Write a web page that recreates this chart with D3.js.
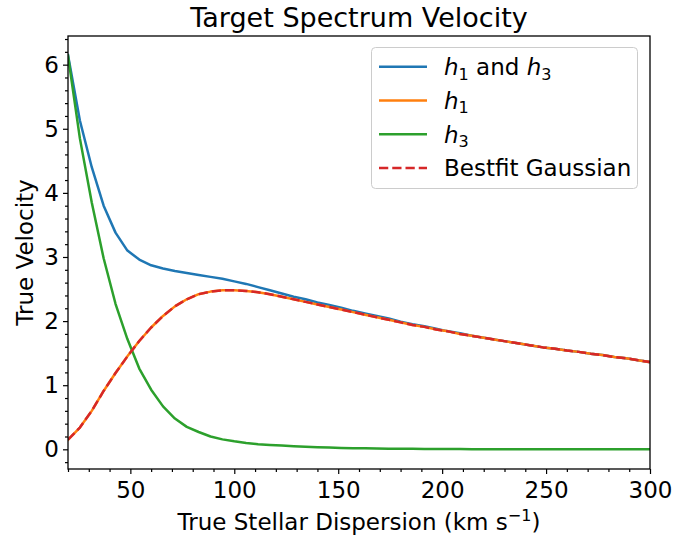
<!DOCTYPE html>
<html>
<head>
<meta charset="utf-8">
<script src="https://cdn.jsdelivr.net/npm/d3@7"></script>
<style>
  html, body { margin: 0; padding: 0; background: #fff; }
  svg { display: block; font-family: "DejaVu Sans", sans-serif; }
</style>
</head>
<body>
<svg id="chart" width="673" height="538"></svg>
<script>
// Dispersion grid (km/s): 50 samples from 20 to 300
const dispersion = d3.range(50).map(i => 20 + i * 280 / 49);

// Recovered velocity for each fit
const velBoth = [6.15, 5.13, 4.40, 3.80, 3.38, 3.10, 2.96, 2.87, 2.82, 2.78,
                 2.75, 2.72, 2.69, 2.66, 2.62, 2.58, 2.53, 2.48, 2.43, 2.38,
                 2.34, 2.29, 2.25, 2.21, 2.16, 2.12, 2.08, 2.04, 1.99, 1.95,
                 1.92, 1.88, 1.84, 1.81, 1.77, 1.74, 1.71, 1.68, 1.65, 1.62,
                 1.59, 1.57, 1.54, 1.52, 1.49, 1.47, 1.44, 1.42, 1.39, 1.36];
const velH1 = [0.15, 0.34, 0.60, 0.91, 1.19, 1.45, 1.69, 1.90, 2.08, 2.23,
               2.34, 2.42, 2.46, 2.48, 2.48, 2.47, 2.45, 2.42, 2.38, 2.34,
               2.30, 2.26, 2.22, 2.18, 2.14, 2.10, 2.06, 2.02, 1.98, 1.94,
               1.91, 1.87, 1.84, 1.80, 1.77, 1.74, 1.71, 1.68, 1.65, 1.62,
               1.59, 1.57, 1.54, 1.52, 1.49, 1.47, 1.44, 1.42, 1.39, 1.36];
const velH3 = [6.14, 4.85, 3.85, 2.98, 2.27, 1.72, 1.26, 0.93, 0.67, 0.48,
               0.35, 0.27, 0.20, 0.155, 0.125, 0.10, 0.08, 0.068, 0.058, 0.048,
               0.040, 0.033, 0.027, 0.022, 0.018, 0.015, 0.012, 0.010, 0.008, 0.007,
               0.006, 0.005, 0.004, 0.0035, 0.003, 0.0025, 0.002, 0.0017, 0.0014, 0.0012,
               0.001, 0.0008, 0.0007, 0.0006, 0.0005, 0.0004, 0.0003, 0.0003, 0.0002, 0.0002];
const velGauss = velH1.slice();

const xTicks = [50, 100, 150, 200, 250, 300];
const yTicks = [0, 1, 2, 3, 4, 5, 6];

const series = [
  { name: "both",  values: velBoth,  color: "#1f77b4", dash: null },
  { name: "h1",    values: velH1,    color: "#ff7f0e", dash: null },
  { name: "h3",    values: velH3,    color: "#2ca02c", dash: null },
  { name: "gauss", values: velGauss, color: "#d62728", dash: "9.25,4" }
];

const svg = d3.select("#chart");
const m = { left: 68, right: 650, top: 36, bottom: 469 };

const x = d3.scaleLinear().domain([20, 300]).range([m.left, m.right]);
const yMin = -0.307, yMax = 6.447;
const y = d3.scaleLinear().domain([yMin, yMax]).range([m.bottom, m.top]);

// Clip lines to the plotting area
svg.append("defs").append("clipPath").attr("id", "plotClip")
  .append("rect").attr("x", m.left).attr("y", m.top)
  .attr("width", m.right - m.left).attr("height", m.bottom - m.top);

const line = d3.line().x((d, i) => x(dispersion[i])).y(d => y(d));

const plot = svg.append("g").attr("clip-path", "url(#plotClip)");
series.forEach(s => {
  plot.append("path")
    .attr("d", line(s.values))
    .attr("fill", "none")
    .attr("stroke", s.color)
    .attr("stroke-width", 2.5)
    .attr("stroke-linejoin", "round")
    .attr("stroke-linecap", s.dash ? "butt" : "square")
    .attr("stroke-dasharray", s.dash);
});

// Axes with major and minor ticks
const tickFont = 23;
const xAxis = d3.axisBottom(x).tickValues(xTicks).tickSize(5).tickPadding(8);
const xMinor = d3.axisBottom(x).tickValues(d3.range(20, 301, 10).filter(v => !xTicks.includes(v)))
  .tickSize(3).tickFormat("");
const yAxis = d3.axisLeft(y).tickValues(yTicks).tickSize(5).tickPadding(4).tickFormat(d3.format("d"));
const yMinorVals = d3.range(-2, 33).map(k => k * 0.2).filter(v => v >= yMin && v <= yMax && Math.abs(v - Math.round(v)) > 1e-6);
const yMinor = d3.axisLeft(y).tickValues(yMinorVals).tickSize(3).tickFormat("");

function styleAxis(g) {
  g.select(".domain").remove();
  g.selectAll(".tick line").attr("stroke", "#000").attr("stroke-width", 1.2);
  g.selectAll(".tick text").attr("fill", "#000")
    .style("font-size", tickFont + "px").style("font-family", "DejaVu Sans");
}

svg.append("g").attr("transform", `translate(0,${m.bottom})`).call(xAxis).call(styleAxis);
svg.append("g").attr("transform", `translate(0,${m.bottom})`).call(xMinor).call(styleAxis);
svg.append("g").attr("transform", `translate(${m.left},0)`).call(yAxis).call(styleAxis);
svg.append("g").attr("transform", `translate(${m.left},0)`).call(yMinor).call(styleAxis);

// Frame
svg.append("rect")
  .attr("x", m.left).attr("y", m.top)
  .attr("width", m.right - m.left).attr("height", m.bottom - m.top)
  .attr("fill", "none").attr("stroke", "#000").attr("stroke-width", 1.3);

// Title and axis labels
svg.append("text")
  .attr("x", (m.left + m.right) / 2).attr("y", 27)
  .attr("text-anchor", "middle")
  .style("font-size", "27px")
  .text("Target Spectrum Velocity");

const xl = svg.append("text")
  .attr("x", (m.left + m.right) / 2).attr("y", 530)
  .attr("text-anchor", "middle")
  .style("font-size", "23px");
xl.append("tspan").text("True Stellar Dispersion (km s");
xl.append("tspan").attr("dy", -9).style("font-size", "16px").text("\u22121");
xl.append("tspan").attr("dy", 9).text(")");

svg.append("text")
  .attr("transform", `translate(33,${(m.top + m.bottom) / 2}) rotate(-90)`)
  .attr("text-anchor", "middle")
  .style("font-size", "23px")
  .text("True Velocity");

// Legend
const legend = svg.append("g");
legend.append("rect")
  .attr("x", 371.5).attr("y", 47.5).attr("width", 266).attr("height", 141)
  .attr("rx", 4).attr("fill", "#fff").attr("fill-opacity", 0.8)
  .attr("stroke", "#ccc").attr("stroke-width", 1);

const legendLabels = [
  [["h", "i"], ["1", "sub"], [" and ", ""], ["h", "i"], ["3", "sub"]],
  [["h", "i"], ["1", "sub"]],
  [["h", "i"], ["3", "sub"]],
  [["Bestfit Gaussian", ""]]
];
const rowY = [66.7, 100.5, 134.3, 168];

series.forEach((s, i) => {
  const yy = rowY[i];
  legend.append("line")
    .attr("x1", 379).attr("x2", 427).attr("y1", yy).attr("y2", yy)
    .attr("stroke", s.color).attr("stroke-width", 2.5)
    .attr("stroke-dasharray", s.dash);
  const t = legend.append("text")
    .attr("x", 444).attr("y", yy + 8.3)
    .style("font-size", "23px");
  let shifted = false;
  legendLabels[i].forEach(([str, kind]) => {
    const ts = t.append("tspan").text(str);
    if (kind === "i") {
      ts.style("font-style", "italic");
      if (shifted) { ts.attr("dy", -4.5); shifted = false; }
    } else if (kind === "sub") {
      ts.attr("dy", 4.5).style("font-size", "16px");
      shifted = true;
    } else if (shifted) {
      ts.attr("dy", -4.5); shifted = false;
    }
  });
});
</script>
</body>
</html>
